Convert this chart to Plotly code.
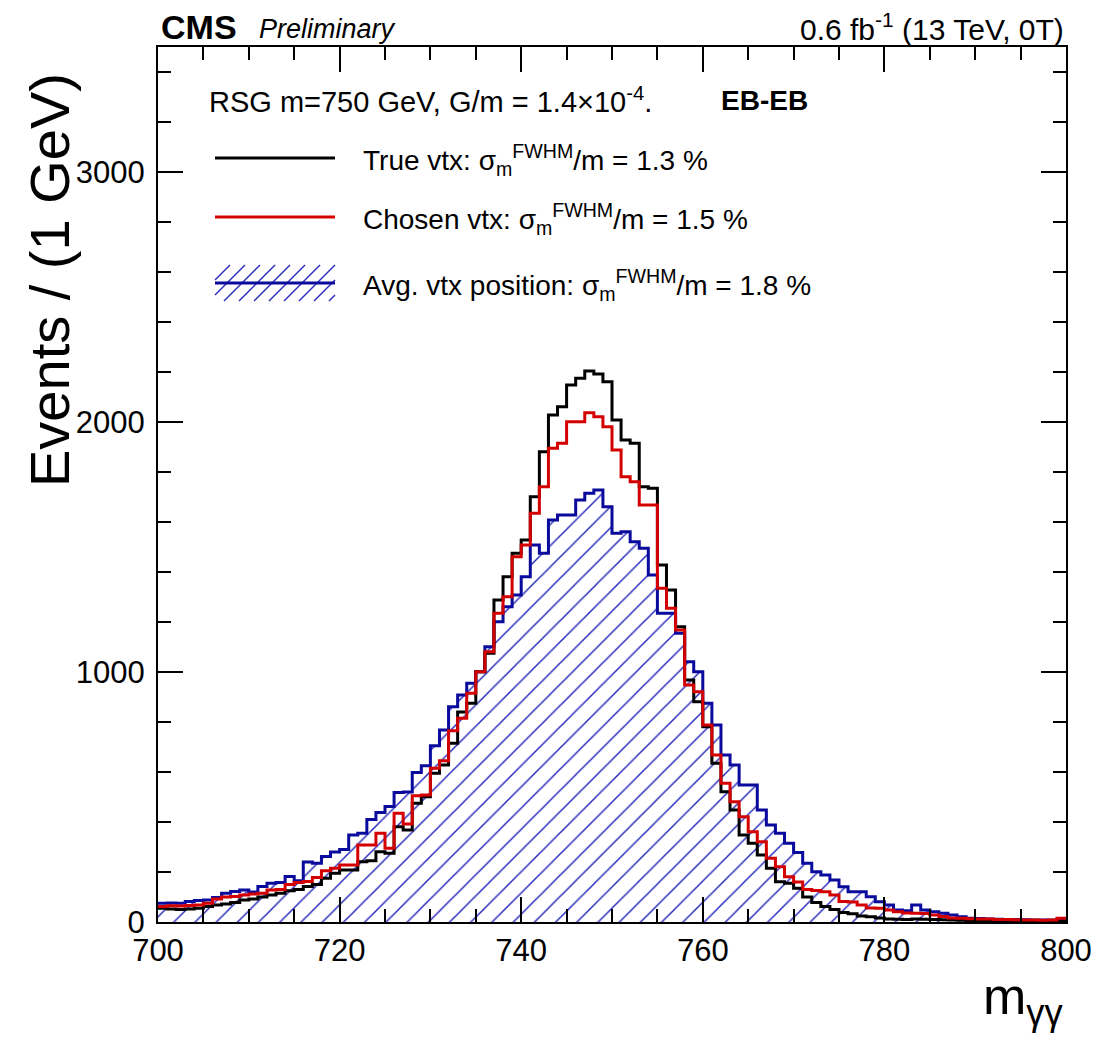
import plotly.graph_objects as go

# ---------------- data (events per 1 GeV bin, 700-800 GeV) ----------------
bin_low = list(range(700, 800))
true_vtx = [55, 52, 50, 52, 55, 62, 68, 72, 78, 88,
            92, 100, 108, 115, 125, 130, 142, 150, 175, 195,
            208, 208, 241, 245, 281, 275, 381, 368, 475, 501,
            595, 628, 715, 840, 875, 1001, 1075, 1288, 1381, 1475,
            1528, 1701, 1881, 2028, 2061, 2148, 2175, 2204, 2192, 2161,
            2008, 1928, 1915, 1741, 1735, 1428, 1328, 1181, 968, 881,
            781, 635, 521, 448, 348, 315, 268, 215, 161, 155,
            135, 100, 78, 62, 50, 38, 33, 24, 21, 16,
            12, 11, 10, 12, 11, 10, 9, 8, 7, 6,
            6, 5, 5, 4, 4, 4, 3, 3, 3, 3]
chosen_vtx = [62, 65, 64, 66, 68, 75, 92, 100, 102, 108,
              112, 115, 128, 130, 150, 158, 162, 178, 205, 215,
              228, 228, 308, 308, 355, 295, 435, 392, 505, 508,
              615, 645, 765, 815, 915, 1001, 1081, 1235, 1301, 1461,
              1508, 1635, 1741, 1895, 1915, 2001, 2001, 2037, 2021, 1981,
              1888, 1781, 1761, 1668, 1668, 1335, 1255, 1168, 948, 921,
              788, 668, 555, 481, 421, 361, 321, 255, 221, 181,
              160, 130, 126, 121, 108, 82, 80, 68, 56, 55,
              48, 41, 36, 35, 34, 28, 22, 16, 15, 13,
              12, 12, 10, 10, 9, 8, 8, 7, 8, 15]
avg_vtx = [75, 76, 75, 82, 86, 88, 98, 115, 122, 128,
           120, 142, 155, 158, 182, 165, 240, 235, 262, 280,
           290, 348, 355, 410, 438, 462, 518, 520, 598, 625,
           705, 768, 861, 908, 955, 1001, 1101, 1201, 1261, 1308,
           1381, 1508, 1475, 1608, 1628, 1628, 1688, 1715, 1728, 1661,
           1555, 1561, 1521, 1495, 1388, 1235, 1235, 1155, 1041, 1001,
           875, 788, 668, 628, 548, 548, 448, 388, 355, 315,
           278, 235, 201, 188, 168, 141, 121, 121, 101, 81,
           68, 48, 45, 68, 48, 41, 35, 28, 21, 15,
           14, 12, 11, 10, 10, 9, 8, 8, 8, 8]

x_ticks = [700, 720, 740, 760, 780, 800]
y_ticks = [0, 1000, 2000, 3000]

BIN_W = 1
centers = [b + BIN_W / 2 for b in bin_low]
edges = bin_low + [bin_low[-1] + BIN_W]

FONT = "Liberation Sans, Arial, Helvetica, sans-serif"
BLACK = "#000000"
RED = "#d40000"
BLUE = "#0a0a9c"
HATCH = "#2a2abc"

# page offset of the figure div (browser default body margin)
OFF = 8
W, H = 1109 - OFF, 1042 - OFF
# plot-area pixel geometry in page coordinates (for decoration placement only)
PX_L, PX_R, PX_T, PX_B = 158, 1066, 47, 922


def px(xp):
    return (xp - PX_L) / (PX_R - PX_L)


def py(yp):
    return (PX_B - yp) / (PX_B - PX_T)


def step_y(vals):
    return list(vals) + [vals[-1]]


fig = go.Figure()

# hatched fill of the avg. vtx histogram
fig.add_trace(go.Bar(
    x=centers, y=avg_vtx, width=BIN_W,
    marker=dict(color="rgba(255,255,255,0)", line=dict(width=0),
                pattern=dict(shape="/", fgcolor=HATCH, fgopacity=1,
                             bgcolor="rgba(255,255,255,0)",
                             size=15, solidity=0.1, fillmode="overlay")),
    showlegend=False, hoverinfo="skip"))

fig.add_trace(go.Scatter(x=edges, y=step_y(avg_vtx), mode="lines",
                         line=dict(shape="hv", color=BLUE, width=3), showlegend=False))
fig.add_trace(go.Scatter(x=edges, y=step_y(true_vtx), mode="lines",
                         line=dict(shape="hv", color=BLACK, width=3), showlegend=False))
fig.add_trace(go.Scatter(x=edges, y=step_y(chosen_vtx), mode="lines",
                         line=dict(shape="hv", color=RED, width=3), showlegend=False))

axis_common = dict(
    showline=True, linecolor="black", linewidth=2, mirror="allticks",
    ticks="inside", ticklen=25, tickwidth=1.5, tickcolor="black",
    showgrid=False, zeroline=False,
    tickfont=dict(family=FONT, size=31, color="black"),
)

fig.update_xaxes(range=[700, 800], tickvals=x_ticks, ticktext=[str(v) for v in x_ticks],
                 minor=dict(dtick=5, tick0=700, ticks="inside", ticklen=13,
                            tickwidth=1.5, tickcolor="black", showgrid=False),
                 **axis_common)
fig.update_yaxes(range=[0, 3500], tickvals=y_ticks, ticktext=[str(v) for v in y_ticks],
                 minor=dict(dtick=200, tick0=0, ticks="inside", ticklen=13,
                            tickwidth=1.5, tickcolor="black", showgrid=False),
                 ticklabelstandoff=5,
                 **axis_common)

ann = []
# header
ann.append(dict(x=px(159), y=py(27), text="<b>CMS</b>", xanchor="left", yanchor="middle",
                font=dict(family=FONT, size=34, color="black")))
ann.append(dict(x=px(257), y=py(29), text="<i>Preliminary</i>", xanchor="left", yanchor="middle",
                font=dict(family=FONT, size=27, color="black")))
ann.append(dict(x=px(1066), y=py(27), text="0.6 fb<sup>-1</sup> (13 TeV, 0T)", xanchor="right",
                yanchor="middle", font=dict(family=FONT, size=30, color="black")))
# axis titles
ann.append(dict(x=px(50), y=py(280), text="Events / (1 GeV)", textangle=-90,
                xanchor="center", yanchor="middle",
                font=dict(family=FONT, size=56, color="black")))
ann.append(dict(x=px(1066), y=py(1000), text="m<sub>γγ</sub>", xanchor="right", yanchor="middle",
                font=dict(family=FONT, size=52, color="black")))
# legend header
ann.append(dict(x=px(207), y=py(100), text="RSG m=750 GeV, G/m = 1.4×10<sup>-4</sup>.",
                xanchor="left", yanchor="middle", font=dict(family=FONT, size=29, color="black")))
ann.append(dict(x=px(719), y=py(100), text="<b>EB-EB</b>", xanchor="left", yanchor="middle",
                font=dict(family=FONT, size=28, color="black")))

leg_labels = ["True vtx: σ<sub>m</sub><sup>FWHM</sup>/m = 1.3 %",
              "Chosen vtx: σ<sub>m</sub><sup>FWHM</sup>/m = 1.5 %",
              "Avg. vtx position: σ<sub>m</sub><sup>FWHM</sup>/m = 1.8 %"]
leg_colors = [BLACK, RED, BLUE]
leg_y = [158, 217, 283]
shapes = []
for lab, col, yy in zip(leg_labels, leg_colors, leg_y):
    ann.append(dict(x=px(361), y=py(yy + 2), text=lab, xanchor="left", yanchor="middle",
                    font=dict(family=FONT, size=28, color="black")))

# hatch box for the third legend entry
bx0, bx1, by0, by1 = 215, 335, 265, 301
c = bx0 + by0
while c <= bx1 + by1:
    xa = max(bx0, c - by1)
    xb = min(bx1, c - by0)
    if xb > xa:
        shapes.append(dict(type="line", xref="paper", yref="paper",
                           x0=px(xa), y0=py(c - xa), x1=px(xb), y1=py(c - xb),
                           line=dict(color=HATCH, width=1.4)))
    c += 15

for col, yy in zip(leg_colors, leg_y):
    shapes.append(dict(type="line", xref="paper", yref="paper",
                       x0=px(215), x1=px(335), y0=py(yy), y1=py(yy),
                       line=dict(color=col, width=3)))

for a in ann:
    a.update(xref="paper", yref="paper", showarrow=False)

fig.update_layout(
    width=W, height=H,
    margin=dict(l=PX_L - OFF, r=(W + OFF) - PX_R, t=PX_T - OFF, b=(H + OFF) - PX_B, pad=0),
    paper_bgcolor="white", plot_bgcolor="white",
    barmode="overlay", bargap=0,
    showlegend=False,
    annotations=ann, shapes=shapes,
    font=dict(family=FONT, color="black"),
)

fig.write_html("out.html")
